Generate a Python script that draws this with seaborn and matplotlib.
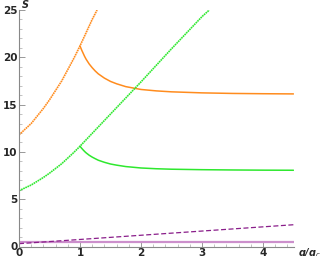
import numpy as np
import pandas as pd
import seaborn as sns
import matplotlib.pyplot as plt
from matplotlib.ticker import MultipleLocator

# --------------------------- DATA ---------------------------
# rising branches, x in q/q_c
x_rise = [0.0, 0.1, 0.2, 0.3, 0.4, 0.5, 0.6, 0.7, 0.8, 0.9, 1.0, 1.1, 1.2, 1.28]
s_rise_orange = [11.8, 12.4, 13.0, 13.8, 14.6, 15.5, 16.5, 17.5, 18.7, 19.9, 21.2, 22.6, 24.0, 25.0]

x_rise_g = [0.0, 0.1, 0.2, 0.3, 0.4, 0.5, 0.6, 0.7, 0.8, 0.9, 1.0, 1.5, 2.0, 2.5, 3.0, 3.12]
s_rise_green = [5.9, 6.2, 6.5, 6.9, 7.3, 7.75, 8.25, 8.75, 9.35, 9.95, 10.6, 14.0, 17.4, 20.9, 24.3, 25.0]

# decaying branches
x_fall = [1.0, 1.025, 1.05, 1.075, 1.1, 1.15, 1.2, 1.25, 1.3, 1.4, 1.5, 1.6, 1.75, 2.0, 2.25,
          2.5, 3.0, 3.5, 4.0, 4.5]
s_fall_orange = [21.2, 20.8, 20.45, 20.1, 19.8, 19.3, 18.9, 18.55, 18.25, 17.8, 17.45, 17.2,
                 16.9, 16.6, 16.45, 16.35, 16.24, 16.18, 16.15, 16.13]
s_fall_green = [10.6, 10.4, 10.22, 10.05, 9.9, 9.65, 9.45, 9.28, 9.12, 8.9, 8.72, 8.6,
                8.45, 8.3, 8.22, 8.17, 8.12, 8.09, 8.07, 8.06]

# purple lines
x_line = [0.0, 4.5]
s_purple_dash = [0.3, 2.3]
s_purple_flat = [0.5, 0.5]

# --------------------------- COLOURS ---------------------------
c_orange = '#ff8c1e'
c_green = '#2ee82e'
c_purple = '#8a1e8a'
c_lilac = '#cc8fcc'

# --------------------------- PLOT ---------------------------
sns.set_style("ticks")
plt.rcParams['font.family'] = ['DejaVu Sans']

fig = plt.figure(figsize=(3.27, 2.56), dpi=100)
ax = fig.add_axes([19 / 327, 1 - 246.5 / 256, (293.5 - 19) / 327, (246.5 - 10) / 256])

df_ro = pd.DataFrame({'q': x_rise, 'S': s_rise_orange})
df_rg = pd.DataFrame({'q': x_rise_g, 'S': s_rise_green})
df_fo = pd.DataFrame({'q': x_fall, 'S': s_fall_orange})
df_fg = pd.DataFrame({'q': x_fall, 'S': s_fall_green})

dots = (0, (1.0, 0.4))
sns.lineplot(data=df_ro, x='q', y='S', ax=ax, color=c_orange, lw=1.2, linestyle=dots)
sns.lineplot(data=df_fo, x='q', y='S', ax=ax, color=c_orange, lw=1.1)
sns.lineplot(data=df_rg, x='q', y='S', ax=ax, color=c_green, lw=1.2, linestyle=dots)
sns.lineplot(data=df_fg, x='q', y='S', ax=ax, color=c_green, lw=1.1)
sns.lineplot(x=x_line, y=s_purple_flat, ax=ax, color=c_lilac, lw=1.6)
sns.lineplot(x=x_line, y=s_purple_dash, ax=ax, color=c_purple, lw=0.9, linestyle=(0, (4, 2)))

ax.set_xlim(0, 4.5)
ax.set_ylim(0, 25)
ax.set_xlabel('')
ax.set_ylabel('')

sns.despine(ax=ax)
for sp in ['left', 'bottom']:
    ax.spines[sp].set_color('#888888')
    ax.spines[sp].set_linewidth(0.8)

ax.xaxis.set_major_locator(MultipleLocator(1))
ax.xaxis.set_minor_locator(MultipleLocator(0.2))
ax.yaxis.set_major_locator(MultipleLocator(5))
ax.yaxis.set_minor_locator(MultipleLocator(1))
ax.tick_params(which='major', direction='in', length=4, width=0.6, color='#888888',
               labelsize=7.5, pad=1)
ax.tick_params(which='minor', direction='in', length=2, width=0.5, color='#aaaaaa')
for lab in ax.get_xticklabels() + ax.get_yticklabels():
    lab.set_fontweight('bold')

ax.text(0.01, 1.0, 'S', transform=ax.transAxes, fontsize=7, fontstyle='italic',
        fontweight='bold', ha='left', va='bottom')
ax.text(1.015, 0.0, 'q/q$_c$', transform=ax.transAxes,
        fontsize=7, fontstyle='italic', fontweight='bold', ha='left', va='top')

fig.savefig('out.png', dpi=100)
